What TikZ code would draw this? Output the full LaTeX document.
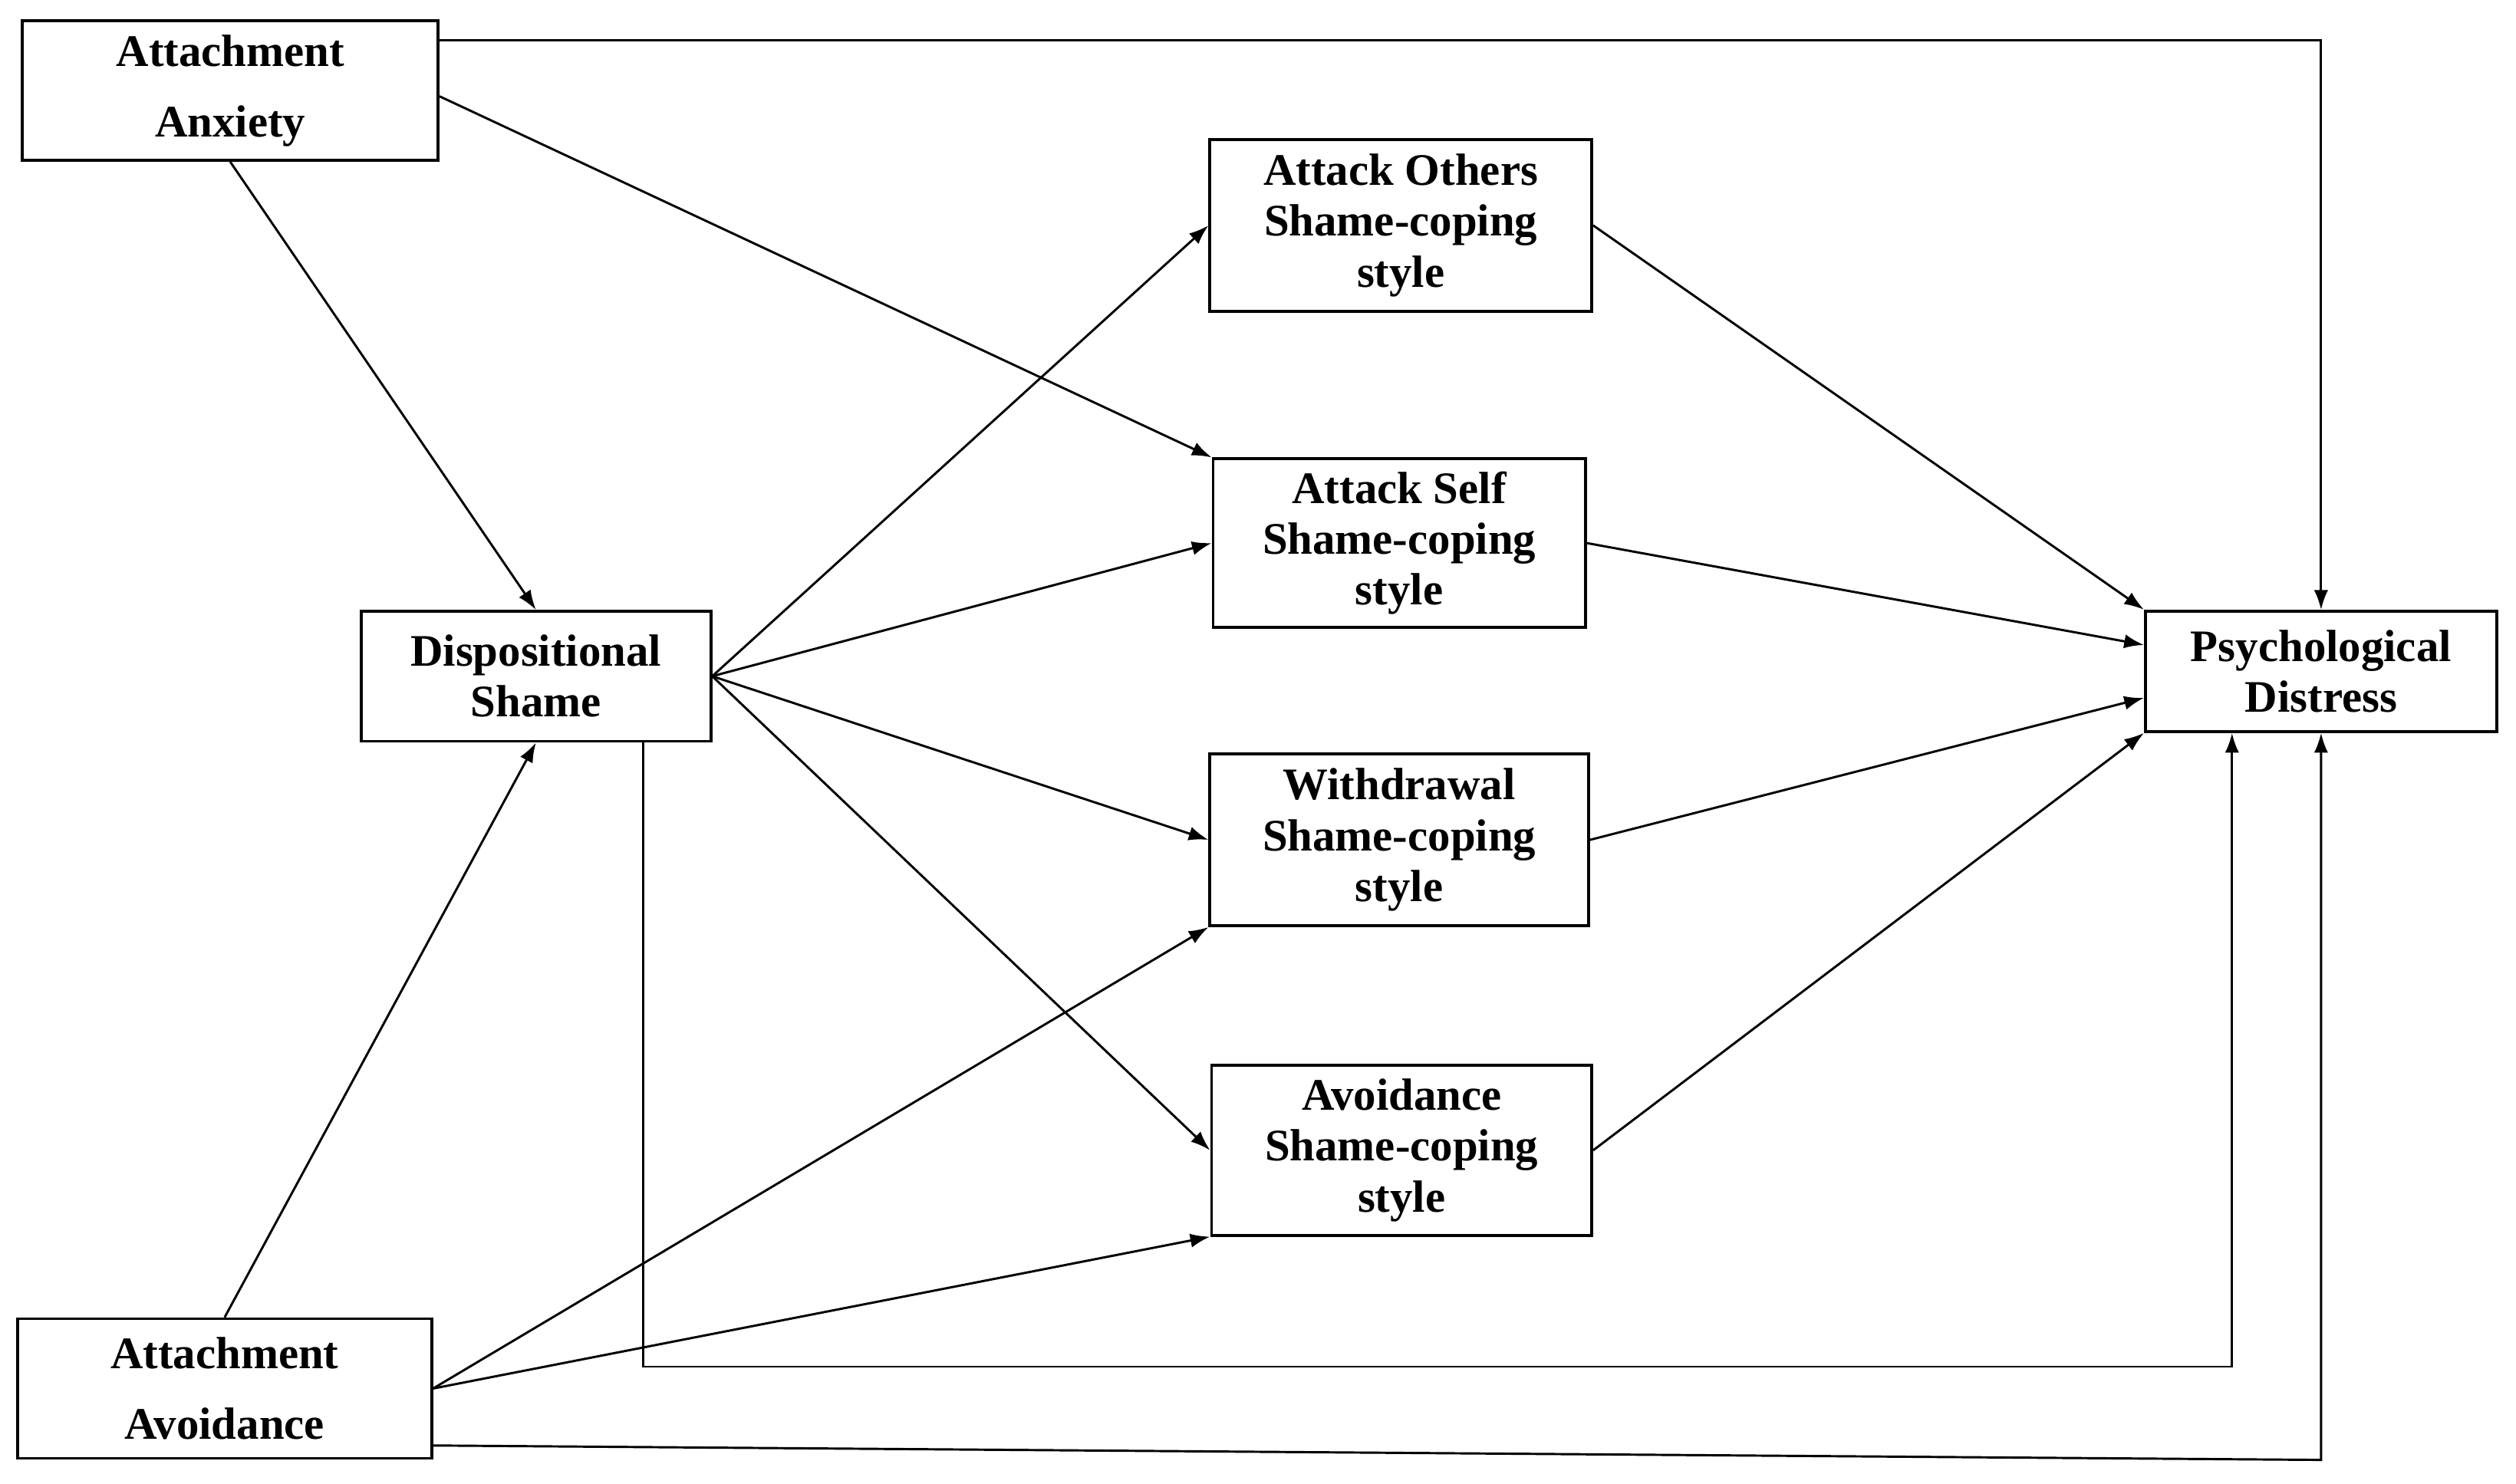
\documentclass[tikz,border=0pt]{standalone}
\usepackage{fontspec}
\setmainfont{Liberation Serif}
\usetikzlibrary{arrows.meta,positioning,calc}
\tikzset{box/.style={draw,line width=1pt,align=center,inner sep=2pt,
    font=\bfseries\fontsize{16}{18}\selectfont},
  link/.style={-{Latex[length=7pt,width=5pt]},line width=0.8pt}}
\begin{document}
\begin{tikzpicture}
\useasboundingbox (0,0) rectangle (31.36,-18.5);
% predictors
\node [box,minimum width=5.18cm,minimum height=1.74cm,font=\bfseries\fontsize{16}{25}\selectfont] (anx) at (2.87,-1.13) {Attachment\\Anxiety};
\node [box,minimum width=5.16cm,minimum height=1.74cm,font=\bfseries\fontsize{16}{25}\selectfont] (avo) at (2.80,-17.31) {Attachment\\Avoidance};
\node [box,minimum width=4.36cm,minimum height=1.62cm] (disp) at (6.68,-8.43) {Dispositional\\Shame};
% coping styles
\node [box,minimum width=4.76cm,minimum height=2.14cm] (ao) at (17.46,-2.81) {Attack Others\\Shame-coping\\style};
\node [box,minimum width=4.64cm,minimum height=2.10cm] (as) at (17.44,-6.77) {Attack Self\\Shame-coping\\style};
\node [box,minimum width=4.72cm,minimum height=2.14cm] (wd) at (17.44,-10.47) {Withdrawal\\Shame-coping\\style};
\node [box,minimum width=4.74cm,minimum height=2.12cm] (avs) at (17.47,-14.34) {Avoidance\\Shame-coping\\style};
% outcome
\node [box,minimum width=4.38cm,minimum height=1.50cm] (pd) at (28.93,-8.37) {Psychological\\Distress};

\draw [link] ([yshift=0.63cm]anx.east) -| (pd.north);
\draw [link] ([yshift=-0.07cm]anx.east) -- (as.north west);
\draw [link] (anx.south) -- (disp.north);
\draw [link] (avo.north) -- (disp.south);
\foreach \t in {ao,as,wd,avs}
  \draw [link] (disp.east) -- (\t.west);
\draw [link] ([xshift=1.34cm]disp.south) -- ++(0,-7.78cm) -| ([xshift=-1.11cm]pd.south);
\draw [link] (avo.east) -- (wd.south west);
\draw [link] (avo.east) -- (avs.south west);
\coordinate (corner) at (28.93,-18.2);
\draw [link] ([yshift=-0.71cm]avo.east) -- (corner) -- (pd.south);
\draw [link] (ao.east) -- ([yshift=0.77cm]pd.west);
\draw [link] (as.east) -- ([yshift=0.33cm]pd.west);
\draw [link] (wd.east) -- ([yshift=-0.33cm]pd.west);
\draw [link] (avs.east) -- (pd.south west);
\end{tikzpicture}
\end{document}
